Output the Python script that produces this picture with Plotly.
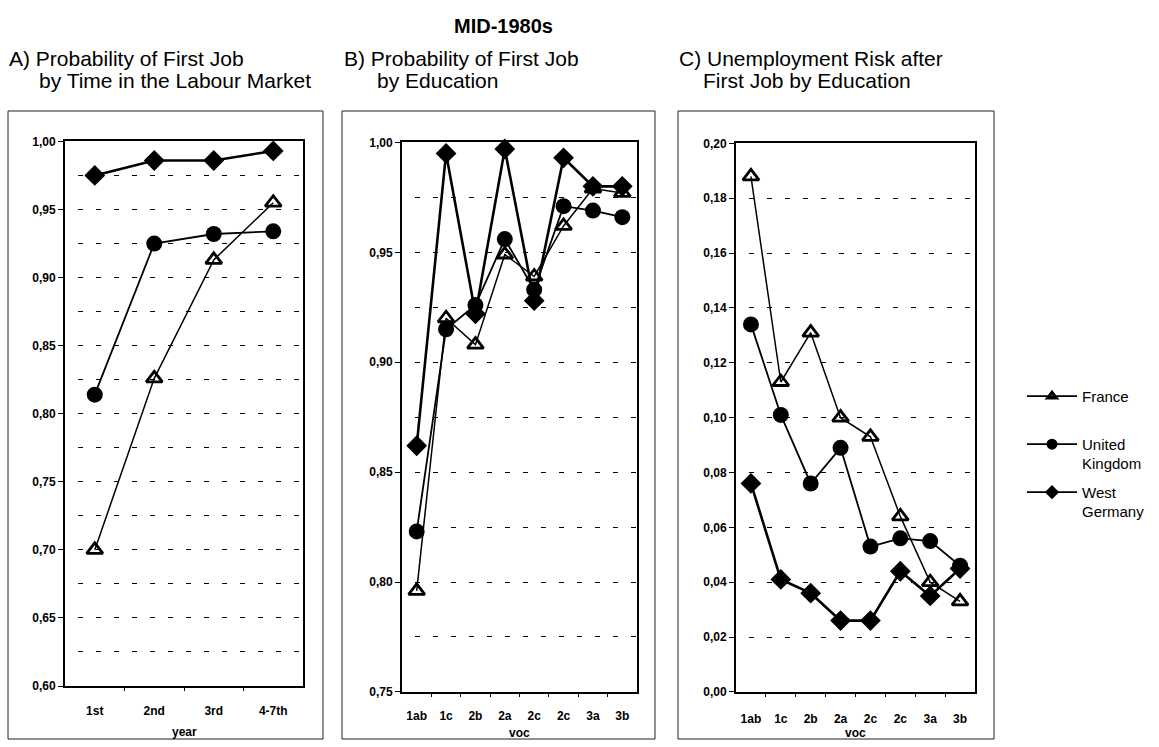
import plotly.graph_objects as go

W, H = 1159, 747

# ---------------- data ----------------
cats_a = ["1st", "2nd", "3rd", "4-7th"]
cats_bc = ["1ab", "1c", "2b", "2a", "2c", "2c", "3a", "3b"]

a_france = [0.700, 0.826, 0.913, 0.955]
a_uk = [0.814, 0.925, 0.932, 0.934]
a_wg = [0.975, 0.986, 0.986, 0.993]

b_france = [0.796, 0.920, 0.908, 0.949, 0.939, 0.962, 0.979, 0.977]
b_uk = [0.823, 0.915, 0.926, 0.956, 0.933, 0.971, 0.969, 0.966]
b_wg = [0.862, 0.995, 0.922, 0.997, 0.928, 0.993, 0.980, 0.980]

c_france = [0.188, 0.113, 0.131, 0.100, 0.093, 0.064, 0.040, 0.033]
c_uk = [0.134, 0.101, 0.076, 0.089, 0.053, 0.056, 0.055, 0.046]
c_wg = [0.076, 0.041, 0.036, 0.026, 0.026, 0.044, 0.035, 0.045]

series_names = ["France<br>&nbsp;", "United<br>Kingdom", "West<br>Germany"]

# ---------------- helpers ----------------
def fx(px):
    return px / W

def fy(py):
    return 1 - py / H

styles = [
    dict(line=dict(color="black", width=1.5),
         marker=dict(symbol="triangle-up-open", size=14, color="black",
                     line=dict(color="black", width=2.8))),
    dict(line=dict(color="black", width=1.8),
         marker=dict(symbol="circle", size=16, color="black",
                     line=dict(color="black", width=0))),
    dict(line=dict(color="black", width=2.6),
         marker=dict(symbol="diamond", size=16, color="black",
                     line=dict(color="black", width=0))),
]

fig = go.Figure()

panels = [
    ("x", "y", cats_a, [a_france, a_uk, a_wg]),
    ("x2", "y2", cats_bc, [b_france, b_uk, b_wg]),
    ("x3", "y3", cats_bc, [c_france, c_uk, c_wg]),
]

for xa, ya, cats, vals in panels:
    for i, v in enumerate(vals):
        fig.add_trace(go.Scatter(
            x=list(range(len(cats))), y=v, xaxis=xa, yaxis=ya,
            mode="lines+markers", showlegend=False, cliponaxis=False,
            line=styles[i]["line"], marker=styles[i]["marker"],
            hoverinfo="skip"))

# legend-only traces (smaller markers like the reference key)
leg_markers = [
    dict(symbol="triangle-up-open", size=8, color="black", line=dict(color="black", width=2.8)),
    dict(symbol="circle", size=11, color="black", line=dict(width=0)),
    dict(symbol="diamond", size=11, color="black", line=dict(width=0)),
]
for i, name in enumerate(series_names):
    fig.add_trace(go.Scatter(
        x=[None], y=[None], xaxis="x3", yaxis="y3", name=name,
        mode="lines+markers", legendgroup=str(i),
        line=dict(color="black", width=1.8), marker=leg_markers[i]))

tickfont = dict(family="Liberation Sans, Arial", size=12, color="black", weight="bold")
dash = "0px,13px,5px,0px"

def xaxis_cfg(domain, cats, standoff):
    n = len(cats)
    return dict(domain=domain, range=[-0.5, n - 0.5],
                tickmode="array", tickvals=list(range(n)), ticktext=cats,
                ticks="", showgrid=False, zeroline=False,
                showline=True, linecolor="black", linewidth=2, mirror=True,
                tickfont=tickfont, ticklabelstandoff=standoff,
                minor=dict(tickvals=[k + 0.5 for k in range(n - 1)],
                           ticks="outside", ticklen=3, tickcolor="black", tickwidth=1))

def yaxis_cfg(domain, rng, step, sub, anchor):
    nt = int(round((rng[1] - rng[0]) / step))
    tv = [rng[0] + k * step for k in range(nt + 1)]
    return dict(domain=domain, range=rng, anchor=anchor,
                tickmode="array", tickvals=tv, tickformat=".2f",
                ticks="outside", ticklen=5, tickcolor="black", tickwidth=1,
                showgrid=True, gridcolor="black", gridwidth=1.4, griddash=dash,
                zeroline=False,
                showline=True, linecolor="black", linewidth=2, mirror=True,
                tickfont=tickfont,
                minor=dict(dtick=sub, tick0=rng[0], showgrid=True,
                           gridcolor="black", gridwidth=1.4, griddash=dash, ticks=""))

fig.update_layout(
    width=W, height=H, margin=dict(l=0, r=0, t=0, b=0),
    paper_bgcolor="white", plot_bgcolor="white",
    separators=", ",
    font=dict(family="Liberation Sans, Arial", color="black"),
    xaxis=xaxis_cfg([fx(65), fx(303)], cats_a, 13),
    yaxis=yaxis_cfg([fy(692), fy(137)], [0.60, 1.00], 0.05, 0.025, "x"),
    xaxis2=xaxis_cfg([fx(402), fx(637)], cats_bc, 12),
    yaxis2=yaxis_cfg([fy(698), fy(138)], [0.75, 1.00], 0.05, 0.025, "x2"),
    xaxis3=xaxis_cfg([fx(736), fx(975)], cats_bc, 15),
    yaxis3=yaxis_cfg([fy(698), fy(139)], [0.00, 0.20], 0.02, 0.02, "x3"),
    legend=dict(x=fx(1022), y=fy(380), xanchor="left", yanchor="top",
                font=dict(size=15, color="black"), itemwidth=50,
                tracegroupgap=6, valign="top", bgcolor="rgba(0,0,0,0)"),
)
fig.layout.xaxis2.anchor = "y2"
fig.layout.xaxis3.anchor = "y3"
fig.layout.xaxis.anchor = "y"

# outer panel boxes
for x0, x1 in [(8, 323), (342, 655), (678, 994)]:
    fig.add_shape(type="rect", xref="paper", yref="paper",
                  x0=fx(x0), x1=fx(x1), y0=fy(746), y1=fy(106),
                  line=dict(color="#222", width=1), layer="below")

# titles
def ann(text, x, y, size, bold=False, xanchor="left"):
    fig.add_annotation(text=("<b>%s</b>" % text) if bold else text,
                       x=fx(x), y=fy(y), xref="paper", yref="paper",
                       xanchor=xanchor, yanchor="middle", showarrow=False,
                       font=dict(size=size, color="black",
                                 family="Liberation Sans, Arial"))

ann("MID-1980s", 503, 19, 20, bold=True, xanchor="center")
ann("A) Probability of First Job", 7, 52, 21)
ann("by Time in the Labour Market", 37, 75, 21)
ann("B) Probability of First Job", 342, 52, 21)
ann("by Education", 375, 75, 21)
ann("C) Unemployment Risk after", 677, 52, 21)
ann("First Job by Education", 701, 75, 21)

ann("year", 184, 739, 12, bold=True, xanchor="center")
ann("voc", 519, 740, 12, bold=True, xanchor="center")
ann("voc", 855, 740, 12, bold=True, xanchor="center")

fig.write_html("out.html")
